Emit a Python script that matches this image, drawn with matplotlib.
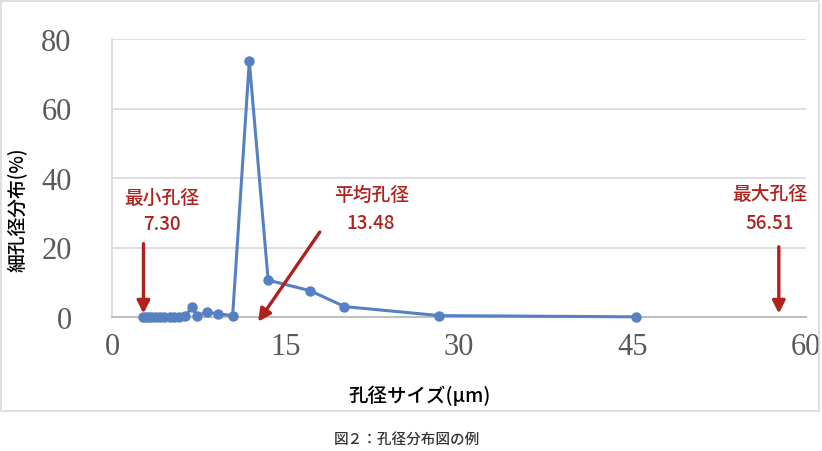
import matplotlib
matplotlib.use("Agg")
import matplotlib.pyplot as plt
from matplotlib.patches import Rectangle

plt.rcParams['font.family'] = ['Noto Sans CJK JP', 'DejaVu Sans']

# ---- data ----
pore_size = [2.65, 2.95, 3.2, 3.5, 3.8, 4.15, 4.5, 5.0, 5.35, 5.8, 6.3,
             6.94, 7.37, 8.2, 9.19, 10.43, 11.87, 13.5, 17.1, 20.1, 28.3, 45.3]
distribution = [0.1, 0.1, 0.1, 0.1, 0.1, 0.1, 0.1, 0.1, 0.1, 0.1, 0.2,
                2.9, 0.4, 1.4, 0.9, 0.4, 73.6, 10.6, 7.6, 3.0, 0.4, 0.05]
x_ticks = [0, 15, 30, 45, 60]
y_ticks = [0, 20, 40, 60, 80]
ann_titles = ['最小孔径', '平均孔径', '最大孔径']
ann_values = ['7.30', '13.48', '56.51']

W, H = 822, 452
fig = plt.figure(figsize=(W/100, H/100), dpi=100)

# outer chart frame
fig.patches.append(Rectangle((1/W, 1 - 412/H), 818/W, 410/H, transform=fig.transFigure,
                             fill=False, edgecolor='#D9D9D9', linewidth=1.2))

ax = fig.add_axes([112/W, 1 - 318/H, 694/W, 278/H])
ax.set_xlim(0, 60)
ax.set_ylim(0, 80)
ax.set_xticks(x_ticks)
ax.set_yticks(y_ticks)
ax.grid(axis='y', color='#D9D9D9', linewidth=1.2)
ax.set_axisbelow(True)
for s in ['top', 'right']:
    ax.spines[s].set_visible(False)
ax.spines['left'].set_color('#D9D9D9')
ax.spines['left'].set_linewidth(1.2)
ax.spines['bottom'].set_color('#BFBFBF')
ax.spines['bottom'].set_linewidth(1.5)
ax.tick_params(length=0)
ax.tick_params(axis='y', pad=29)
ax.tick_params(axis='x', pad=11)
for lab in ax.get_xticklabels() + ax.get_yticklabels():
    lab.set_fontfamily('Liberation Serif')
    lab.set_fontsize(22)
    lab.set_color('#595959')

line_color = '#5580C2'
ax.plot(pore_size, distribution, color=line_color, linewidth=2.2, marker='o',
        markersize=6.5, clip_on=False, zorder=3)

red = '#B0211C'
arrow_kw = dict(arrowstyle='-|>,head_length=0.75,head_width=0.38', color=red, lw=2.4)
# min
ax.annotate('', xy=(2.72, 0.2), xytext=(2.72, 21.9), arrowprops=arrow_kw, annotation_clip=False)
# mean
ax.annotate('', xy=(12.5, -2.0), xytext=(18.1, 25.1), arrowprops=arrow_kw, annotation_clip=False)
# max
ax.annotate('', xy=(57.65, 0.2), xytext=(57.65, 21.0), arrowprops=arrow_kw, annotation_clip=False)

txt_pos = [(4.3, 34.5, 26.8), (22.4, 35.4, 27.3), (56.9, 35.4, 27.3)]
for (x, y1, y2), t, v in zip(txt_pos, ann_titles, ann_values):
    ax.text(x, y1, t, color=red, fontsize=13.5, fontweight='medium', ha='center', va='center')
    ax.text(x, y2, v, color=red, fontsize=13.5, fontweight='medium', ha='center', va='center')

fig.text(18/W, 1 - 210/H, '細孔径分布(%)', rotation=90, ha='center', va='center',
         fontsize=13.5, fontweight='medium', color='#000000')
fig.text(420/W, 1 - 396/H, '孔径サイズ(μm)', ha='center', va='center',
         fontsize=14, fontweight='medium', color='#000000')
fig.text(407/W, 1 - 440/H, '図２：孔径分布図の例', ha='center', va='center',
         fontsize=10.5, fontweight='medium', color='#333333')

fig.savefig('out.png', dpi=100)
